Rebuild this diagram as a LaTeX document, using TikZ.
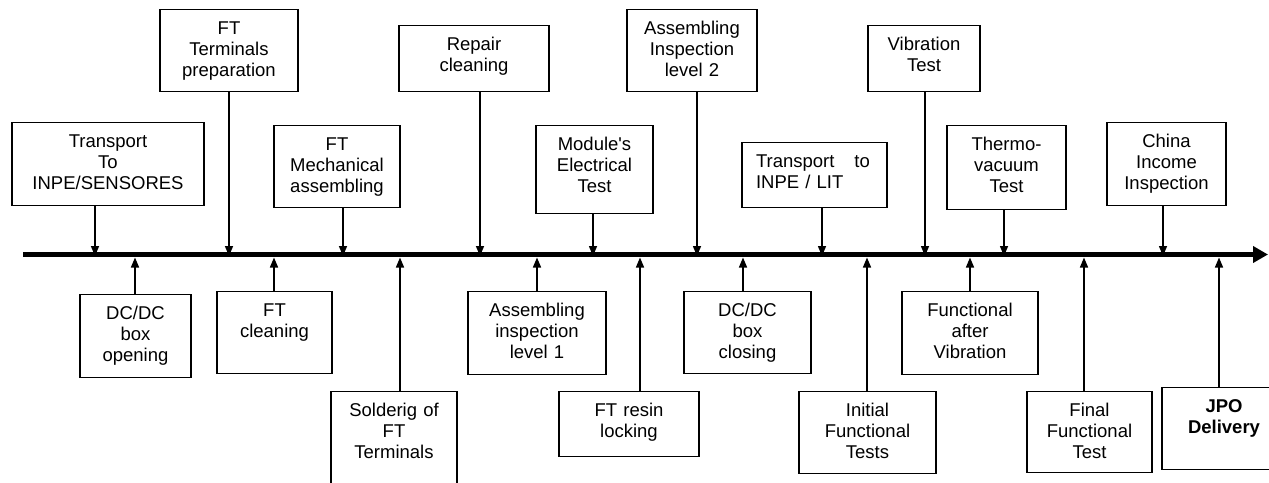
\documentclass[tikz,border=0pt]{standalone}
\usepackage{fontspec}
\setmainfont{Liberation Sans}
\newfontfamily\plainsans{Liberation Sans}
\usetikzlibrary{arrows.meta}
\tikzset{
  box/.style={draw, line width=1.2pt, inner xsep=0pt, inner ysep=0pt, align=center, anchor=north,
              font=\fontsize{18.5}{21}\selectfont, text height=25pt},
  conn/.style={line width=1.5pt, -{Triangle[length=10pt,width=8pt]}},
  axisline/.style={line width=5.5pt, -{Triangle[length=15pt,width=16pt]}}
}
\begin{document}
\begin{tikzpicture}[x=1pt,y=-1pt]
\useasboundingbox (0,0) rectangle (1269,482);
\clip (0,0) rectangle (1269,482);
% axis
\coordinate (axs) at (23,254.5);
\coordinate (axe) at (1268,254.5);
\draw[axisline] (axs) -- (axe);
% top boxes
\node[box, text width=192pt, text depth=58pt] (tr1) at (108,122) {Transport\\To\\INPE/SENSORES};
\node[box, text width=138pt, text depth=57pt] (ftterm) at (229,9) {FT\\Terminals\\preparation};
\node[box, text width=126pt, text depth=57pt] (ftmech) at (337,125) {FT\\Mechanical\\assembling};
\node[box, text width=150pt, text depth=41pt] (repair) at (474,25) {Repair\\cleaning};
\node[box, text width=117pt, text depth=63pt] (modul) at (594.5,125) {{\plainsans Module's}\\Electrical\\Test};
\node[box, text width=130pt, text depth=57pt] (asm2) at (692,9) {Assembling\\Inspection\\level 2};
\node[box, align=left, inner xsep=14pt, text width=117pt, text depth=40pt] (tr2) at (814.5,142) {Transport\hspace{20pt}to\\INPE / LIT};
\node[box, text width=112pt, text depth=41pt] (vib) at (924,25) {Vibration\\Test};
\node[box, text width=119pt, text depth=59pt] (thermo) at (1006.5,125) {Thermo-\\vacuum\\Test};
\node[box, text width=119pt, text depth=58pt] (china) at (1166.5,122) {China\\Income\\Inspection};
% bottom boxes
\node[box, text width=111pt, text depth=58pt] (dcopen) at (135.5,294) {DC/DC\\box\\opening};
\node[box, text width=115pt, text depth=57pt] (ftclean) at (274.5,291) {FT\\cleaning};
\node[box, text width=126pt, text depth=90pt] (solder) at (394,391) {Solderig of\\FT\\Terminals};
\node[box, text width=138pt, text depth=58pt] (asm1) at (537,291) {Assembling\\inspection\\level 1};
\node[box, text width=140pt, text depth=40pt] (resin) at (629,391) {FT resin\\locking};
\node[box, text width=127pt, text depth=57pt] (dcclose) at (747.5,291) {DC/DC\\box\\closing};
\node[box, text width=137pt, text depth=57pt] (initial) at (867.5,391) {Initial\\Functional\\Tests};
\node[box, text width=136pt, text depth=58pt] (funcvib) at (970,291) {Functional\\after\\Vibration};
\node[box, text width=125pt, text depth=56pt] (final) at (1089.5,391) {Final\\Functional\\Test};
\node[box, text width=124pt, text depth=57pt, font=\fontsize{18.5}{21}\selectfont\bfseries] (jpo) at (1224,387) {JPO\\Delivery};
% axis points (top arrows)
\coordinate (a1) at (95,256);
\coordinate (a2) at (229,256);
\coordinate (a3) at (343,256);
\coordinate (a4) at (480,256);
\coordinate (a5) at (593,256);
\coordinate (a6) at (697,256);
\coordinate (a7) at (822,256);
\coordinate (a8) at (925,256);
\coordinate (a9) at (1004,256);
\coordinate (a10) at (1163,256);
\draw[conn] (tr1.south -| a1) -- (a1);
\draw[conn] (ftterm.south -| a2) -- (a2);
\draw[conn] (ftmech.south -| a3) -- (a3);
\draw[conn] (repair.south -| a4) -- (a4);
\draw[conn] (modul.south -| a5) -- (a5);
\draw[conn] (asm2.south -| a6) -- (a6);
\draw[conn] (tr2.south -| a7) -- (a7);
\draw[conn] (vib.south -| a8) -- (a8);
\draw[conn] (thermo.south -| a9) -- (a9);
\draw[conn] (china.south -| a10) -- (a10);
% axis points (bottom arrows)
\coordinate (b1) at (135,257.5);
\coordinate (b2) at (274,257.5);
\coordinate (b3) at (400,257.5);
\coordinate (b4) at (537,257.5);
\coordinate (b5) at (640,257.5);
\coordinate (b6) at (743,257.5);
\coordinate (b7) at (867,257.5);
\coordinate (b8) at (970,257.5);
\coordinate (b9) at (1084,257.5);
\coordinate (b10) at (1219,257.5);
\draw[conn] (dcopen.north -| b1) -- (b1);
\draw[conn] (ftclean.north -| b2) -- (b2);
\draw[conn] (solder.north -| b3) -- (b3);
\draw[conn] (asm1.north -| b4) -- (b4);
\draw[conn] (resin.north -| b5) -- (b5);
\draw[conn] (dcclose.north -| b6) -- (b6);
\draw[conn] (initial.north -| b7) -- (b7);
\draw[conn] (funcvib.north -| b8) -- (b8);
\draw[conn] (final.north -| b9) -- (b9);
\draw[conn] (jpo.north -| b10) -- (b10);
\end{tikzpicture}
\end{document}
